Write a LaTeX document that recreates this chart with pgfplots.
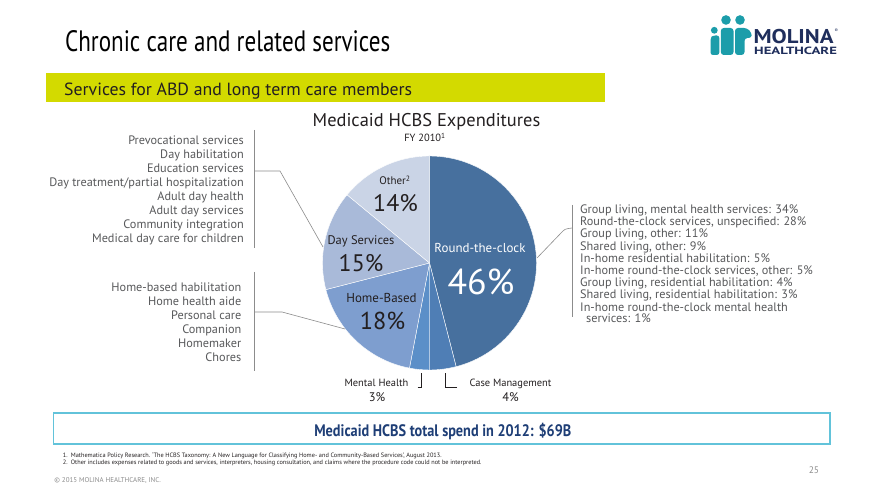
\documentclass[border=0pt]{standalone}
\usepackage{pgfplots}
\pgfplotsset{compat=1.18}
\usepackage{pgfplotstable}
\usepackage{graphicx}
\usepackage{fontspec}
\setmainfont{PT Sans}

\definecolor{cRTC}{HTML}{47709E}
\definecolor{cCM}{HTML}{4F7EB5}
\definecolor{cMH}{HTML}{5B8FC8}
\definecolor{cHB}{HTML}{7E9ECF}
\definecolor{cDS}{HTML}{A9BAD9}
\definecolor{cOT}{HTML}{CAD4E6}
\definecolor{limebar}{HTML}{D3DA00}
\definecolor{logoteal}{HTML}{1C9DAA}
\definecolor{logonavy}{HTML}{1F2E5C}
\definecolor{boxblue}{HTML}{62C3DA}
\definecolor{totalblue}{HTML}{1E3E76}
\definecolor{sidegray}{HTML}{58595B}
\definecolor{linegray}{HTML}{8C8C8C}
\definecolor{txt}{HTML}{231F20}

% Medicaid HCBS expenditures, FY 2010 (percent), clockwise from 12 o'clock
\pgfplotstableread{
pct col
46 cRTC
4  cCM
3  cMH
18 cHB
15 cDS
14 cOT
}\piedata

\newcommand\fs[1]{\fontsize{#1}{#1}\selectfont}

\begin{document}
\begin{tikzpicture}[x=1bp,y=1bp]
\fill[white] (0,0) rectangle (880,495);
\useasboundingbox (0,0) rectangle (880,495);

\begin{scope}[shift={(429.5bp,232bp)}]
\begin{axis}[at={(0pt,0pt)}, anchor=origin, x=107bp, y=107bp,
  xmin=-1.02, xmax=1.02, ymin=-1.02, ymax=1.02, hide axis, clip=false]
\pgfplotstablegetrowsof{\piedata}
\pgfmathtruncatemacro\lastrow{\pgfplotsretval-1}
\gdef\angA{90}
\pgfplotsforeachungrouped \i in {0,...,\lastrow}{%
  \pgfplotstablegetelem{\i}{pct}\of\piedata \let\p\pgfplotsretval
  \pgfplotstablegetelem{\i}{col}\of\piedata \let\c\pgfplotsretval
  \pgfmathsetmacro\angB{\angA-3.6*\p}%
  \edef\temp{\noexpand\fill[\c, draw=white, line width=0.4bp]
    (axis cs:0,0) -- (axis cs:{cos(\angA)},{sin(\angA)})
    arc[start angle=\angA, end angle=\angB, radius=107bp] -- cycle;}%
  \temp
  \global\let\angA\angB
}
\end{axis}
\end{scope}

\begin{scope}[yshift=495bp, y=-1bp]
% title
\node[anchor=base west, inner sep=0] at (65,51.7)
  {\resizebox{325bp}{\height}{\fs{29.6}Chronic care and related services}};
% logo
\fill[logoteal] (714.3,30.3) circle (3.4);
\fill[logoteal] (726,20) circle (4.8);
\fill[logoteal] (740,20) circle (4.8);
\fill[logoteal, rounded corners=2.5] (710.5,55) -- (710.5,38) -- (713,35.5) -- (719.3,35.5) -- (719.3,55) -- cycle;
\fill[logoteal, rounded corners=3] (720.8,55) -- (720.8,28) -- (733.5,28) -- (733.5,55) -- cycle;
\fill[logoteal, rounded corners=3] (735,55) -- (735,28) -- (747,28) -- (751.7,33) -- (751.7,38) -- (744.5,38) -- (744.5,55) -- cycle;
\node[anchor=base west, inner sep=0, text=logonavy] at (753.3,43.5)
  {\resizebox{80bp}{\height}{\fs{20}\bfseries MOLINA}};
\node[anchor=base west, inner sep=0, text=logonavy] at (834.5,33)
  {\fs{5}\textregistered};
\node[anchor=base west, inner sep=0, text=logonavy] at (754,55)
  {\resizebox{82.7bp}{\height}{\fs{10.5}\bfseries HEALTHCARE}};
% lime bar
\fill[limebar] (46,73.5) rectangle (605,102.5);
\node[anchor=base west, inner sep=0, text=txt] at (64,95.7)
  {\resizebox{348bp}{\height}{\fs{17.7}Services for ABD and long term care members}};

% pie titles
\node[anchor=base, inner sep=0, text=txt] at (426.5,127) {\fs{18.5}Medicaid HCBS Expenditures};
\node[anchor=base, inner sep=0, text=txt] at (425,142) {\fs{10.5}FY 2010\textsuperscript{1}};
% pie labels
\node[anchor=base, inner sep=0, text=txt] at (395,185) {\fs{11}Other\textsuperscript{2}};
\node[anchor=base, inner sep=0, text=txt] at (395.5,211.7) {\fs{24}14\%};
\node[anchor=base, inner sep=0, text=txt] at (361,244.5) {\fs{12.5}Day Services};
\node[anchor=base, inner sep=0, text=txt] at (361,271.7) {\fs{24}15\%};
\node[anchor=base, inner sep=0, text=white] at (480,252.5) {\fs{13}Round-the-clock};
\node[anchor=base, inner sep=0, text=white] at (481,295) {\fs{36}46\%};
\node[anchor=base, inner sep=0, text=txt] at (381.5,303) {\fs{13}Home-Based};
\node[anchor=base, inner sep=0, text=txt] at (382.5,330) {\fs{24.5}18\%};
\node[anchor=base, inner sep=0, text=txt] at (376.5,386.5) {\fs{10.5}Mental Health};
\node[anchor=base, inner sep=0, text=txt] at (377,402) {\fs{12.5}3\%};
\node[anchor=base, inner sep=0, text=txt] at (510.5,386.5) {\fs{10.5}Case Management};
\node[anchor=base, inner sep=0, text=txt] at (510.5,402) {\fs{12.5}4\%};
\draw[txt, line width=0.8bp] (417.5,387) -- (421.5,387) -- (421.5,373);
\draw[txt, line width=0.8bp] (457,387) -- (445,387) -- (445,373);

% left blocks
\begin{scope}[every node/.style={anchor=base east, inner sep=0, text=sidegray, font=\fs{12.3}}]
\node at (244,145) {Prevocational services};
\node at (244,158.9) {Day habilitation};
\node at (244,172.8) {Education services};
\node at (244,186.7) {Day treatment/partial hospitalization};
\node at (244,200.6) {Adult day health};
\node at (244,214.5) {Adult day services};
\node at (244,228.4) {Community integration};
\node at (244,242.3) {Medical day care for children};
\node at (241.5,292) {Home-based habilitation};
\node at (241.5,305.9) {Home health aide};
\node at (241.5,319.8) {Personal care};
\node at (241.5,333.7) {Companion};
\node at (241.5,347.6) {Homemaker};
\node at (241.5,361.5) {Chores};
\end{scope}
\draw[linegray, line width=0.7bp] (254,130) -- (254,248);
\draw[linegray, line width=0.7bp] (254,272) -- (254,371);
\draw[linegray, line width=0.6bp] (254,171) -- (280,171) -- (323,247);
\draw[linegray, line width=0.6bp] (254,312) -- (282,312) -- (345,329);

% right block
\begin{scope}[every node/.style={anchor=base west, inner sep=0, text=sidegray, font=\fs{12.3}}]
\node at (580,213.5) {Group living, mental health services: 34\%};
\node at (580,225.7) {Round-the-clock services, unspecified: 28\%};
\node at (580,237.9) {Group living, other: 11\%};
\node at (580,250.1) {Shared living, other: 9\%};
\node at (580,262.3) {In-home residential habilitation: 5\%};
\node at (580,274.5) {In-home round-the-clock services, other: 5\%};
\node at (580,286.7) {Group living, residential habilitation: 4\%};
\node at (580,298.9) {Shared living, residential habilitation: 3\%};
\node at (580,311.1) {In-home round-the-clock mental health};
\node at (586,322.5) {services: 1\%};
\end{scope}
\draw[linegray, line width=0.7bp] (572,205) -- (572,317);
\draw[linegray, line width=0.6bp] (537,258) -- (562,232) .. controls (565,229) .. (572,228);

% total box
\draw[boxblue, line width=1.6bp] (53.5,413) rectangle (830,444);
\node[anchor=base, inner sep=0, text=totalblue] at (442.8,436.7)
  {\resizebox{257bp}{\height}{\fs{16.7}\bfseries Medicaid HCBS total spend in 2012: \$69B}};

% footnotes
\begin{scope}[every node/.style={anchor=base west, inner sep=0, text=txt, font=\fs{6.3}}]
\node at (62.7,457.5) {1.};
\node at (70.7,457.5) {Mathematica Policy Research. `The HCBS Taxonomy: A New Language for Classifying Home- and Community-Based Services', August 2013.};
\node at (62.7,464.5) {2.};
\node at (70.7,464.5) {Other includes expenses related to goods and services, interpreters, housing consultation, and claims where the procedure code could not be interpreted.};
\end{scope}
\node[anchor=base east, inner sep=0, text=linegray] at (819.3,474) {\fs{9.5}25};
\node[anchor=base west, inner sep=0, text=linegray] at (54.3,482.5) {\fs{7}\textcopyright{} 2015 MOLINA HEALTHCARE, INC.};
\end{scope}
\end{tikzpicture}
\end{document}
